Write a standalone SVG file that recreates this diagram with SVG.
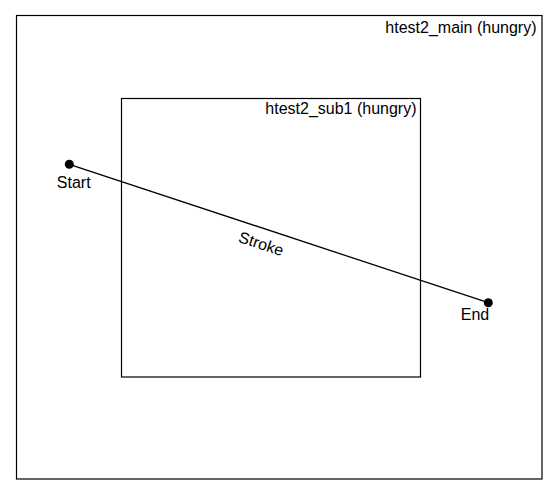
<svg xmlns="http://www.w3.org/2000/svg" width="557" height="494" viewBox="0 0 557 494">
<style>
.box{fill:none;stroke:#000;stroke-width:1.2}
.lbl{font-family:"Liberation Sans",Arial,sans-serif;font-size:16px;fill:#000}
.dot{fill:#000}
.edge{stroke:#000;stroke-width:1.3;fill:none}
</style>
<rect width="557" height="494" fill="#fff"/>
<g id="htest2_main">
<rect class="box" x="16.5" y="15.5" width="525.5" height="463.5"/>
<text class="lbl" x="536.5" y="32.5" text-anchor="end">htest2_main (hungry)</text>
</g>
<g id="htest2_sub1">
<rect class="box" x="121.5" y="98.5" width="299" height="278.5"/>
<text class="lbl" x="416.5" y="113.5" text-anchor="end">htest2_sub1 (hungry)</text>
</g>
<g id="connectors">
<line class="edge" x1="69.3" y1="164.3" x2="488.3" y2="302.7"/>
<text class="lbl" x="259.5" y="249" text-anchor="middle" transform="rotate(18.27 259.5 249)">Stroke</text>
</g>
<g id="start">
<circle class="dot" cx="69.3" cy="164.3" r="4.5"/>
<text class="lbl" x="73.7" y="187.5" text-anchor="middle">Start</text>
</g>
<g id="end">
<circle class="dot" cx="488.3" cy="302.7" r="4.5"/>
<text class="lbl" x="475" y="320" text-anchor="middle">End</text>
</g>
</svg>
